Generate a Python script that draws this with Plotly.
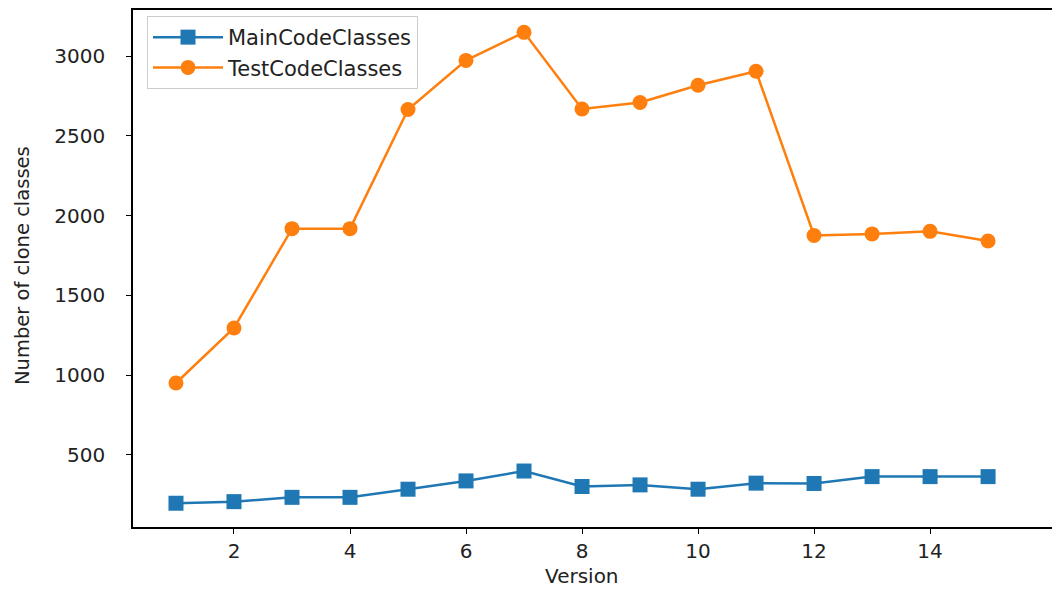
import plotly.graph_objects as go

versions = list(range(1, 16))
main_code = [196, 206, 233, 233, 284, 336, 398, 301, 311, 284, 322, 320, 363, 363, 363]
test_code = [950, 1295, 1918, 1918, 2665, 2973, 3149, 2668, 2709, 2817, 2905, 1875, 1885, 1901, 1840]
series_names = ["MainCodeClasses", "TestCodeClasses"]
x_ticks = [2, 4, 6, 8, 10, 12, 14]
y_ticks = [500, 1000, 1500, 2000, 2500, 3000]

FONT = "DejaVu Sans"
# page body adds an 8px offset; figure is sized to compensate
OFF = 8
W, H = 1060 - OFF, 592 - OFF
L, T, B = 133 - OFF, 0, 65
PW = W - L
PH = H - T - B

fig = go.Figure()
fig.add_trace(go.Scatter(
    x=versions, y=main_code, name=series_names[0], mode="lines+markers",
    line=dict(color="#1f77b4", width=2.5),
    marker=dict(symbol="square", size=15, color="#1f77b4"),
))
fig.add_trace(go.Scatter(
    x=versions, y=test_code, name=series_names[1], mode="lines+markers",
    line=dict(color="#ff7f0e", width=2.5),
    marker=dict(symbol="circle", size=15, color="#ff7f0e"),
))

fig.update_layout(
    width=W, height=H,
    margin=dict(l=L, r=0, t=T, b=B, pad=0),
    paper_bgcolor="white", plot_bgcolor="white",
    font=dict(family=FONT, size=20, color="#222222"),
    showlegend=True,
    legend=dict(
        x=(147 - 133) / PW, y=1 - (14 - 8) / PH, xanchor="left", yanchor="top",
        bordercolor="#cccccc", borderwidth=1, bgcolor="rgba(255,255,255,0.8)",
        font=dict(family=FONT, size=21, color="#222222"),
        itemwidth=70, tracegroupgap=0,
    ),
    xaxis=dict(
        range=[0.259, 16.24], tickvals=x_ticks, showgrid=False, zeroline=False,
        showline=True, linecolor="black", linewidth=1.5, mirror=True,
        ticks="outside", ticklen=5, tickcolor="black", tickwidth=1.2,
        tickfont=dict(family=FONT, size=20, color="#222222"),
    ),
    yaxis=dict(
        range=[47, 3289], tickvals=y_ticks, showgrid=False, zeroline=False,
        showline=True, linecolor="black", linewidth=1.5,
        ticks="outside", ticklen=5, tickcolor="black", tickwidth=1.2,
        tickfont=dict(family=FONT, size=20, color="#222222"),
        ticklabelstandoff=17,
    ),
    annotations=[
        dict(text="Version", xref="x", yref="paper", x=8, y=-(576 - 527) / PH,
             xanchor="center", yanchor="middle", showarrow=False,
             font=dict(family=FONT, size=20, color="#222222")),
        dict(text="Number of clone classes", xref="paper", yref="paper",
             x=-(133 - 22) / PW, y=(527 - 265) / PH, textangle=-90,
             xanchor="center", yanchor="middle", showarrow=False,
             font=dict(family=FONT, size=19.5, color="#222222")),
    ],
)

fig.write_html("out.html")
